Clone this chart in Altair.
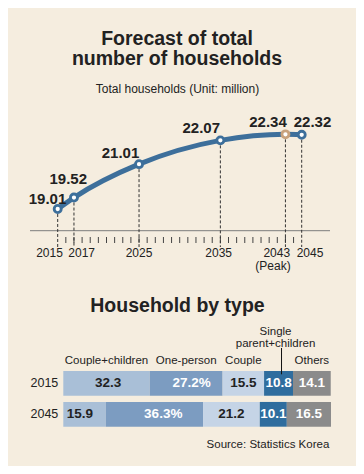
import altair as alt
import pandas as pd

# ---------------- data ----------------
YEARS = [2015, 2017, 2025, 2035, 2043, 2045]
HOUSEHOLDS = [19.01, 19.52, 21.01, 22.07, 22.34, 22.32]
YEAR_LABELS = ["2015", "2017", "2025", "2035", "2043", "2045"]
PEAK_YEAR = 2043
PEAK_NOTE = "(Peak)"
MINOR_TICK_YEARS = list(range(2016, 2045))

TYPES = ["Couple+children", "One-person", "Couple", "Single parent+children", "Others"]
SHARE_2015 = [32.3, 27.2, 15.5, 10.8, 14.1]
SHARE_2045 = [15.9, 36.3, 21.2, 10.1, 16.5]
BAR_YEARS = ["2015", "2045"]

TITLE_LINES = ["Forecast of total", "number of households"]
SUBTITLE = "Total households (Unit: million)"
TITLE2 = "Household by type"
SOURCE = "Source: Statistics Korea"

# ---------------- style ----------------
BG = "#f5eddf"
LINE_BLUE = "#3d6f9b"
PEAK_TAN = "#c9a27c"
TYPE_COLORS = ["#a9bfd7", "#7c9cc1", "#c5d4e6", "#2f6d9e", "#8b8b8b"]
DARK = "#222222"
FONT = "Liberation Sans"

VALUE_LABEL_OFFSET = {2015: (-10.2, -9.8), 2017: (-5.7, -18.5), 2025: (-18.5, -11.5),
                      2035: (-19.1, -12.8), 2043: (-17.4, -12.6), 2045: (10.8, -12.6)}
YEAR_LABEL_DX = {2015: -8.2, 2017: 7.7, 2025: 0, 2035: -1.7, 2043: -8.7, 2045: 8.3}
# horizontal nudges of some in-bar labels (pixels), as in the original layout
BAR_TEXT_DX = {("2015", "Couple+children"): 1.5, ("2015", "One-person"): 5.5,
               ("2045", "Couple+children"): -4.6, ("2045", "One-person"): 8.8}

line_df = pd.DataFrame({"year": YEARS, "value": HOUSEHOLDS, "ylabel": YEAR_LABELS})
line_df["label"] = [f"{v:.2f}" for v in HOUSEHOLDS]
tick_df = pd.DataFrame({"year": MINOR_TICK_YEARS})

x_line = alt.Scale(domain=[2015, 2045], range=[49.7, 293.7], zero=False, nice=False)
y_line = alt.Scale(domain=[18, 23.5], range=[223.65, 100.3], zero=False, nice=False)
X = alt.X("year:Q", scale=x_line, axis=None)
Y = alt.Y("value:Q", scale=y_line, axis=None)

one = pd.DataFrame({"a": [0]})


def static_text(text, x, y, size, weight="normal", align="center", color=DARK):
    return alt.Chart(pd.DataFrame({"t": [text]})).mark_text(
        font=FONT, fontSize=size, fontWeight=weight, align=align,
        baseline="alphabetic", color=color
    ).encode(text="t:N", x=alt.value(x), y=alt.value(y))


top_layers = [
    static_text(TITLE_LINES[0], 169, 36.5, 19.5, "bold"),
    static_text(TITLE_LINES[1], 169, 56.5, 19.5, "bold"),
    static_text(SUBTITLE, 169.5, 84.7, 12),
    alt.Chart(one).mark_rule(color="#7d7d7d", strokeWidth=1).encode(
        x=alt.value(22), x2=alt.value(322), y=alt.value(222.7)),
    alt.Chart(tick_df).mark_rule(color="#444444", strokeWidth=1).encode(
        x=X, y=alt.value(229), y2=alt.value(235)),
    alt.Chart(line_df).mark_rule(color="#333333", strokeWidth=1, strokeDash=[3, 2]).encode(
        x=X, y=Y, y2=alt.value(239)),
    alt.Chart(line_df).mark_line(interpolate="monotone", strokeWidth=5, color=LINE_BLUE).encode(
        x=X, y=Y),
    alt.Chart(line_df).mark_point(shape="circle", filled=True, fill="white", opacity=1,
                                  strokeWidth=2.8, size=50).encode(
        x=X, y=Y,
        stroke=alt.condition(f"datum.year == {PEAK_YEAR}", alt.value(PEAK_TAN), alt.value(LINE_BLUE))),
]

for yr, (dx, dy) in VALUE_LABEL_OFFSET.items():
    top_layers.append(
        alt.Chart(line_df).transform_filter(f"datum.year == {yr}").mark_text(
            font=FONT, fontSize=15, fontWeight="bold", color=DARK, baseline="middle",
            align="center", dx=dx, dy=dy
        ).encode(x=X, y=Y, text="label:N"))

for yr, dx in YEAR_LABEL_DX.items():
    top_layers.append(
        alt.Chart(line_df).transform_filter(f"datum.year == {yr}").mark_text(
            font=FONT, fontSize=12, color=DARK, baseline="middle", align="center", dx=dx
        ).encode(x=X, y=alt.value(244.5), text="ylabel:N"))

top_layers.append(
    alt.Chart(line_df).transform_filter(f"datum.year == {PEAK_YEAR}").transform_calculate(
        note=f"'{PEAK_NOTE}'").mark_text(
        font=FONT, fontSize=12, color=DARK, baseline="middle", align="center", dx=-12.4
    ).encode(x=X, y=alt.value(257.8), text="note:N"))

top = alt.layer(*top_layers)

# ---------------- bars ----------------
rows = []
for yr, shares in zip(BAR_YEARS, [SHARE_2015, SHARE_2045]):
    for i, (t, s) in enumerate(zip(TYPES, shares)):
        rows.append({"year": yr, "type": t, "share": s, "idx": i})
bar_df = pd.DataFrame(rows)

x_bar = alt.Scale(domain=[0, 100], range=[55.3, 323], zero=False, nice=False)
y_bar = alt.Scale(domain=BAR_YEARS, range=[363, 418.7], paddingInner=0.2, paddingOuter=0)
YB = alt.Y("year:N", scale=y_bar, axis=None)

base = alt.Chart(bar_df).transform_stack(
    stack="share", groupby=["year"], as_=["s0", "s1"], sort=[alt.SortField("idx", order="ascending")]
).transform_calculate(mid="(datum.s0 + datum.s1) / 2")

bars = base.mark_bar(stroke=None).encode(
    x=alt.X("s0:Q", scale=x_bar, axis=None), x2="s1:Q", y=YB,
    color=alt.Color("type:N", scale=alt.Scale(domain=TYPES, range=TYPE_COLORS), legend=None))

XM = alt.X("mid:Q", scale=x_bar, axis=None)

text_base = base.transform_calculate(
    txt="format(datum.share, '.1f') + (datum.type == 'One-person' ? '%' : '')")
text_color = alt.condition("datum.type == 'Couple+children' || datum.type == 'Couple'",
                           alt.value(DARK), alt.value("white"))


def cell_test(yr, t):
    return f"(datum.year == '{yr}' && datum.type == '{t}')"


nudged = " || ".join(cell_test(yr, t) for (yr, t) in BAR_TEXT_DX)
bar_text_layers = [
    text_base.transform_filter(f"!({nudged})").mark_text(
        font=FONT, fontSize=13.5, fontWeight="bold", baseline="middle", align="center"
    ).encode(x=XM, y=YB, text="txt:N", color=text_color)
]
for (yr, t), dx in BAR_TEXT_DX.items():
    bar_text_layers.append(
        text_base.transform_filter(cell_test(yr, t)).mark_text(
            font=FONT, fontSize=13.5, fontWeight="bold", baseline="middle", align="center", dx=dx
        ).encode(x=XM, y=YB, text="txt:N", color=text_color))

cat_labels = base.transform_filter(
    "datum.year == '2015' && datum.type != 'Single parent+children'"
).mark_text(font=FONT, fontSize=11.5, color=DARK, baseline="alphabetic", align="center").encode(
    x=XM, y=alt.value(356), text="type:N")

single_label = base.transform_filter(
    "datum.year == '2015' && datum.type == 'Single parent+children'"
).transform_calculate(lbl="replace(datum.type, ' ', '\\n')").mark_text(
    font=FONT, fontSize=11.5, color=DARK, baseline="alphabetic", align="center",
    lineBreak="\n", lineHeight=11.7, dx=-3
).encode(x=XM, y=alt.value(327), text="lbl:N")

leader = base.transform_filter(
    "datum.year == '2015' && datum.type == 'Single parent+children'"
).mark_rule(color="#111111", strokeWidth=1, xOffset=3).encode(
    x=XM, y=alt.value(340), y2=alt.value(366.3))

row_labels = alt.Chart(pd.DataFrame({"year": BAR_YEARS})).mark_text(
    font=FONT, fontSize=12.5, color=DARK, baseline="middle", align="right"
).encode(x=alt.value(50.3), y=YB, text="year:N")

bottom = alt.layer(
    static_text(TITLE2, 169.5, 303.7, 19.5, "bold"),
    bars, *bar_text_layers, cat_labels, single_label, leader, row_labels,
    static_text(SOURCE, 321.3, 440.3, 11.5, align="right"),
)

chart = alt.layer(top, bottom).resolve_scale(
    x="independent", y="independent", color="independent"
).properties(
    width=348, height=458, background=BG, padding=0,
    autosize=alt.AutoSizeParams(type="none")
).configure_view(stroke=None)

chart.save("out.html", embed_options={"renderer": "svg", "actions": False})
